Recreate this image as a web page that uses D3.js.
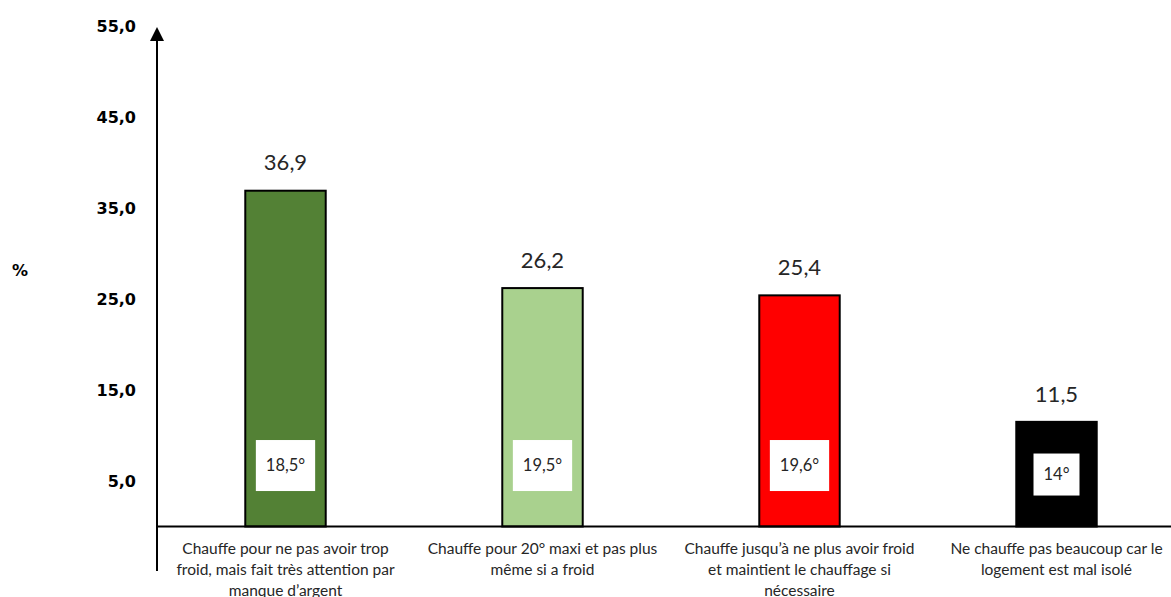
<!DOCTYPE html>
<html><head><meta charset="utf-8">
<script src="https://cdn.jsdelivr.net/npm/d3@7"></script>
<style>body{margin:0;background:#fff}svg{display:block}</style>
</head><body>
<svg id="c" width="1171" height="597"></svg>
<script>
const categories = [
  ["Chauffe pour ne pas avoir trop", "froid, mais fait très attention par", "manque d’argent"],
  ["Chauffe pour 20° maxi et pas plus", "même si a  froid"],
  ["Chauffe jusqu’à ne plus avoir froid", "et maintient le chauffage si", "nécessaire"],
  ["Ne chauffe pas beaucoup car le", "logement est mal isolé"]
];
const values = [36.9, 26.2, 25.4, 11.5];
const valueLabels = ["36,9", "26,2", "25,4", "11,5"];
const tempLabels = ["18,5°", "19,5°", "19,6°", "14°"];
const colors = ["#538135", "#A9D18E", "#FF0000", "#000000"];
const yTicks = [5, 15, 25, 35, 45, 55];
const yTickLabels = ["5,0", "15,0", "25,0", "35,0", "45,0", "55,0"];

const svg = d3.select("#c");
const x0 = 157, x1 = 1185;
const y = d3.scaleLinear().domain([0, 55]).range([526.5, 26]);
const x = d3.scaleBand().domain(d3.range(categories.length)).range([x0, x1]).paddingInner(0.687).paddingOuter(0.3435);

// y tick labels
svg.append("g").selectAll("text").data(yTicks).join("text")
  .attr("x", 136).attr("y", d => y(d)).attr("dy", "0.35em")
  .attr("text-anchor", "end")
  .attr("font-family", "DejaVu Sans, Verdana, sans-serif").attr("font-weight", "bold").attr("font-size", 16)
  .attr("fill", "#000").text((d, i) => yTickLabels[i]);

svg.append("text").attr("x", 20).attr("y", 270).attr("dy", "0.35em").attr("text-anchor", "middle")
  .attr("font-family", "DejaVu Sans, Verdana, sans-serif").attr("font-weight", "bold").attr("font-size", 16).text("%");

// bars
const g = svg.append("g");
g.selectAll("rect.bar").data(values).join("rect").attr("class", "bar")
  .attr("x", (d, i) => x(i)).attr("width", x.bandwidth())
  .attr("y", d => y(d)).attr("height", d => y(0) - y(d))
  .attr("fill", (d, i) => colors[i]).attr("stroke", "#000").attr("stroke-width", 2);

// value labels
g.selectAll("text.val").data(values).join("text").attr("class", "val")
  .attr("x", (d, i) => x(i) + x.bandwidth() / 2).attr("y", d => y(d) - 28).attr("dy", "0.35em")
  .attr("text-anchor", "middle").attr("font-family", "Lato, sans-serif").attr("font-size", 22)
  .attr("fill", "#262626").text((d, i) => valueLabels[i]);

// temperature boxes
const boxCY = y(6.7);
tempLabels.forEach((t, i) => {
  const cx = x(i) + x.bandwidth() / 2;
  const txt = g.append("text").attr("x", cx).attr("y", boxCY).attr("dy", "0.35em")
    .attr("text-anchor", "middle").attr("font-family", "Lato, sans-serif").attr("font-size", 16.5)
    .attr("fill", "#262626").text(t);
  const w = txt.node().getComputedTextLength();
  const bw = w + 20, bh = i === 3 ? 42 : 51;
  g.insert("rect", () => txt.node()).attr("x", cx - bw / 2).attr("y", boxCY - bh / 2 + (i === 3 ? 9 : 0))
    .attr("width", bw).attr("height", bh).attr("fill", "#fff");
  if (i === 3) txt.attr("y", boxCY + 9);
});

// axes
svg.append("line").attr("x1", x0).attr("x2", 1171).attr("y1", y(0)).attr("y2", y(0)).attr("stroke", "#000").attr("stroke-width", 2);
svg.append("line").attr("x1", x0).attr("x2", x0).attr("y1", 36).attr("y2", 571).attr("stroke", "#000").attr("stroke-width", 2);
svg.append("path").attr("d", `M${x0},27 L${x0 - 7},41 L${x0 + 7},41 Z`).attr("fill", "#000");

// category labels
categories.forEach((lines, i) => {
  const cx = x(i) + x.bandwidth() / 2;
  const t = svg.append("text").attr("text-anchor", "middle").attr("font-family", "Lato, sans-serif")
    .attr("font-size", 15.5).attr("fill", "#262626");
  lines.forEach((l, k) => t.append("tspan").attr("x", cx).attr("y", 554 + k * 21).text(l));
});
</script>
</body></html>
